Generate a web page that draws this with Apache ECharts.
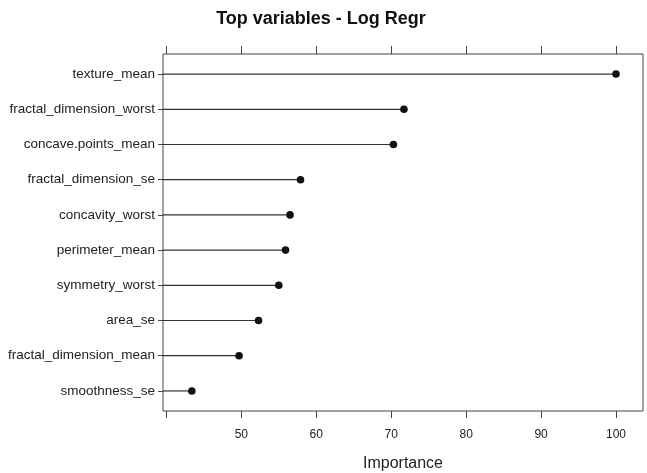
<!DOCTYPE html>
<html>
<head>
<meta charset="utf-8">
<script src="https://cdn.jsdelivr.net/npm/echarts@6/dist/echarts.min.js"></script>
<style>
  html, body { margin: 0; padding: 0; background: #fff; }
  #chart { width: 647px; height: 473px; }
</style>
</head>
<body>
<div id="chart"></div>
<script>
// Variables, top to bottom, with their importance scores
var variables = [
  'texture_mean',
  'fractal_dimension_worst',
  'concave.points_mean',
  'fractal_dimension_se',
  'concavity_worst',
  'perimeter_mean',
  'symmetry_worst',
  'area_se',
  'fractal_dimension_mean',
  'smoothness_se'
];
var importance = [100, 71.7, 70.3, 57.9, 56.5, 55.9, 55.0, 52.3, 49.7, 43.4];
var tickValues = [40, 50, 60, 70, 80, 90, 100];
var tickLabels = [50, 60, 70, 80, 90, 100];

var xMin = 39.55, xMax = 103.6;
var rowIdx = variables.map(function (_, i) { return i; });
var ink = '#222';
var font = 'Liberation Sans, Arial, sans-serif';

var chart = echarts.init(document.getElementById('chart'), null, { renderer: 'canvas' });

chart.setOption({
  backgroundColor: '#fff',
  animation: false,
  title: {
    text: 'Top variables - Log Regr',
    left: 316,
    top: 5,
    textAlign: 'center',
    textStyle: { fontFamily: font, fontSize: 18, fontWeight: 'bold', color: '#111' }
  },
  grid: {
    left: 163, right: 4, top: 54, bottom: 62,
    outerBoundsMode: 'none',
    containLabel: false,
    show: true, borderColor: '#444', borderWidth: 1, backgroundColor: 'transparent'
  },
  xAxis: [{
    type: 'value', position: 'bottom', min: xMin, max: xMax,
    name: 'Importance', nameLocation: 'middle', nameGap: 45,
    nameTextStyle: { fontFamily: font, fontSize: 16, color: ink },
    axisLine: { show: false, onZero: false },
    splitLine: { show: false },
    axisTick: { show: true, length: 7, lineStyle: { color: '#444' }, customValues: tickValues },
    axisLabel: { fontFamily: font, fontSize: 12, color: ink, margin: 18, customValues: tickLabels }
  }, {
    type: 'value', position: 'top', min: xMin, max: xMax,
    axisLine: { show: false, onZero: false },
    splitLine: { show: false },
    axisTick: { show: true, length: 8, lineStyle: { color: '#444' }, customValues: tickValues },
    axisLabel: { show: false }
  }],
  yAxis: {
    type: 'value', min: -0.57, max: 9.57, inverse: true,
    axisLine: { show: false, onZero: false },
    splitLine: { show: false },
    axisTick: { show: true, length: 5, lineStyle: { color: '#444' }, customValues: rowIdx },
    axisLabel: {
      fontFamily: font, fontSize: 13.5, color: ink, margin: 8,
      customValues: rowIdx,
      formatter: function (v) { return variables[Math.round(v)]; }
    }
  },
  series: [{
    type: 'custom',
    xAxisIndex: 0,
    data: importance.map(function (v, i) { return [v, i]; }),
    renderItem: function (params, api) {
      var end = api.coord([api.value(0), api.value(1)]);
      var start = api.coord([xMin, api.value(1)]);
      return {
        type: 'group',
        children: [{
          type: 'line',
          shape: { x1: start[0], y1: start[1], x2: end[0], y2: end[1] },
          style: { stroke: '#333', lineWidth: 1.2 }
        }, {
          type: 'circle',
          shape: { cx: end[0], cy: end[1], r: 3.8 },
          style: { fill: '#111' }
        }]
      };
    }
  }]
});
</script>
</body>
</html>
